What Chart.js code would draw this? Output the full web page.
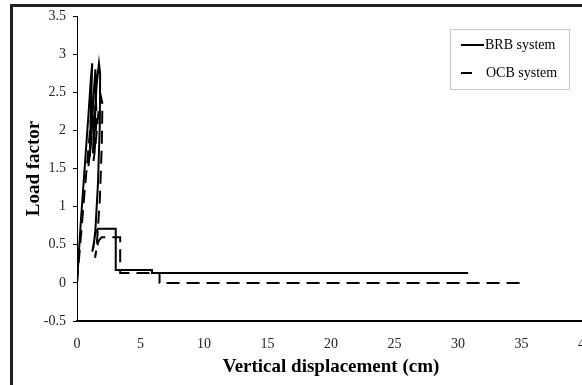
<!DOCTYPE html>
<html>
<head>
<meta charset="utf-8">
<script src="https://cdn.jsdelivr.net/npm/chart.js@4.4.0/dist/chart.umd.min.js"></script>
<style>
  html, body { margin: 0; padding: 0; background: #fff; overflow: hidden; width: 582px; height: 385px; }
  #frame { position: absolute; left: 10px; top: 4px; width: 620px; height: 378px;
           border-left: 3px solid #222; border-top: 3px solid #222; border-bottom: 1px solid #ccc; }
  #chart { position: absolute; left: 0; top: 0; }
</style>
</head>
<body>
<div id="frame"></div>
<canvas id="chart" width="620" height="385"></canvas>
<script>
// BRB system (solid line)
const brbX = [0, 0.3, 0.6, 0.9, 1.1, 1.2, 1.15, 1.05, 1.0, 1.1, 1.3, 1.45, 1.5, 1.4, 1.25, 1.35, 1.55, 1.73, 1.82, 1.8, 1.65, 1.45, 1.3, 1.2, 1.3, 1.45, 1.66, 1.8, 3.05, 3.05, 5.9, 5.9, 30.8];
const brbY = [0, 0.8, 1.5, 2.2, 2.7, 2.88, 2.6, 1.95, 1.66, 1.9, 2.45, 2.8, 2.6, 2.0, 1.7, 2.05, 2.6, 2.88, 2.75, 2.1, 1.3, 0.7, 0.47, 0.41, 0.5, 0.65, 0.71, 0.71, 0.71, 0.17, 0.17, 0.13, 0.13];

// OCB system (dashed line)
const ocbX = [0, 0.3, 0.6, 0.9, 1.1, 1.25, 1.2, 1.0, 0.9, 1.05, 1.3, 1.5, 1.55, 1.4, 1.3, 1.45, 1.7, 1.9, 2.0, 1.95, 1.8, 1.6, 1.5, 1.42, 1.5, 1.7, 1.94, 3.4, 3.4, 6.5, 6.5, 35];
const ocbY = [0, 0.6, 1.2, 1.75, 2.15, 2.35, 2.1, 1.65, 1.53, 1.75, 2.15, 2.35, 2.2, 1.75, 1.6, 1.8, 2.25, 2.43, 2.35, 1.8, 1.1, 0.6, 0.4, 0.33, 0.42, 0.55, 0.6, 0.6, 0.13, 0.13, 0, 0];

const xTicks = [0, 5, 10, 15, 20, 25, 30, 35, 40];
const yTicks = [-0.5, 0, 0.5, 1, 1.5, 2, 2.5, 3, 3.5];

const toPts = (xs, ys) => xs.map((x, i) => ({ x: x, y: ys[i] }));

const legendBox = {
  id: 'legendBox',
  afterDraw(chart) {
    const ctx = chart.ctx;
    ctx.save();
    ctx.strokeStyle = '#c8c8c8';
    ctx.lineWidth = 1;
    ctx.strokeRect(450.5, 29.5, 119, 60);
    ctx.strokeStyle = '#000';
    ctx.lineWidth = 2;
    ctx.beginPath();
    ctx.moveTo(461, 45); ctx.lineTo(484, 45);
    ctx.moveTo(461, 73); ctx.lineTo(472, 73);
    ctx.stroke();
    ctx.fillStyle = '#000';
    ctx.font = '14px "Liberation Serif"';
    ctx.textBaseline = 'middle';
    ctx.fillText('BRB system', 485, 45);
    ctx.fillText('OCB system', 486, 73);
    ctx.restore();
  }
};

new Chart('chart', {
  type: 'scatter',
  data: {
    datasets: [{
      label: 'BRB system',
      data: toPts(brbX, brbY),
      showLine: true,
      borderColor: '#000',
      borderWidth: 2,
      pointRadius: 0,
      tension: 0
    }, {
      label: 'OCB system',
      data: toPts(ocbX, ocbY),
      showLine: true,
      borderColor: '#000',
      borderWidth: 2,
      borderDash: [13, 7],
      pointRadius: 0,
      tension: 0
    }]
  },
  options: {
    responsive: false,
    animation: false,
    layout: { padding: { left: 0, top: 16, right: 35, bottom: 0 } },
    plugins: {
      legend: { display: false },
      tooltip: { enabled: false }
    },
    scales: {
      x: {
        type: 'linear',
        min: 0, max: 40,
        afterBuildTicks: (s) => { s.ticks = xTicks.map(v => ({ value: v })); },
        afterFit: (s) => { s.height = 64; },
        grid: { drawOnChartArea: false, drawTicks: false },
        border: { display: true, color: '#000', width: 2 },
        ticks: { padding: 15, color: '#222', autoSkip: false, maxRotation: 0,
                 font: { family: 'Liberation Serif', size: 14 }, callback: (v) => String(v) },
        title: { display: true, text: 'Vertical displacement (cm)', color: '#000',
                 font: { family: 'Liberation Serif', size: 19, weight: 'bold' }, padding: { top: 0, bottom: 7 } }
      },
      y: {
        min: -0.5, max: 3.5,
        afterBuildTicks: (s) => { s.ticks = yTicks.map(v => ({ value: v })); },
        afterFit: (s) => { s.width = 77; },
        grid: { drawOnChartArea: false, drawTicks: true, tickLength: 4, color: '#000' },
        border: { display: true, color: '#000', width: 1 },
        ticks: { padding: 7, color: '#222', autoSkip: false,
                 font: { family: 'Liberation Serif', size: 14 }, callback: (v) => String(v) },
        title: { display: true, text: 'Load factor', color: '#000',
                 font: { family: 'Liberation Serif', size: 19, weight: 'bold' }, padding: { top: 23, bottom: 0 } }
      }
    }
  },
  plugins: [legendBox]
});
</script>
</body>
</html>
